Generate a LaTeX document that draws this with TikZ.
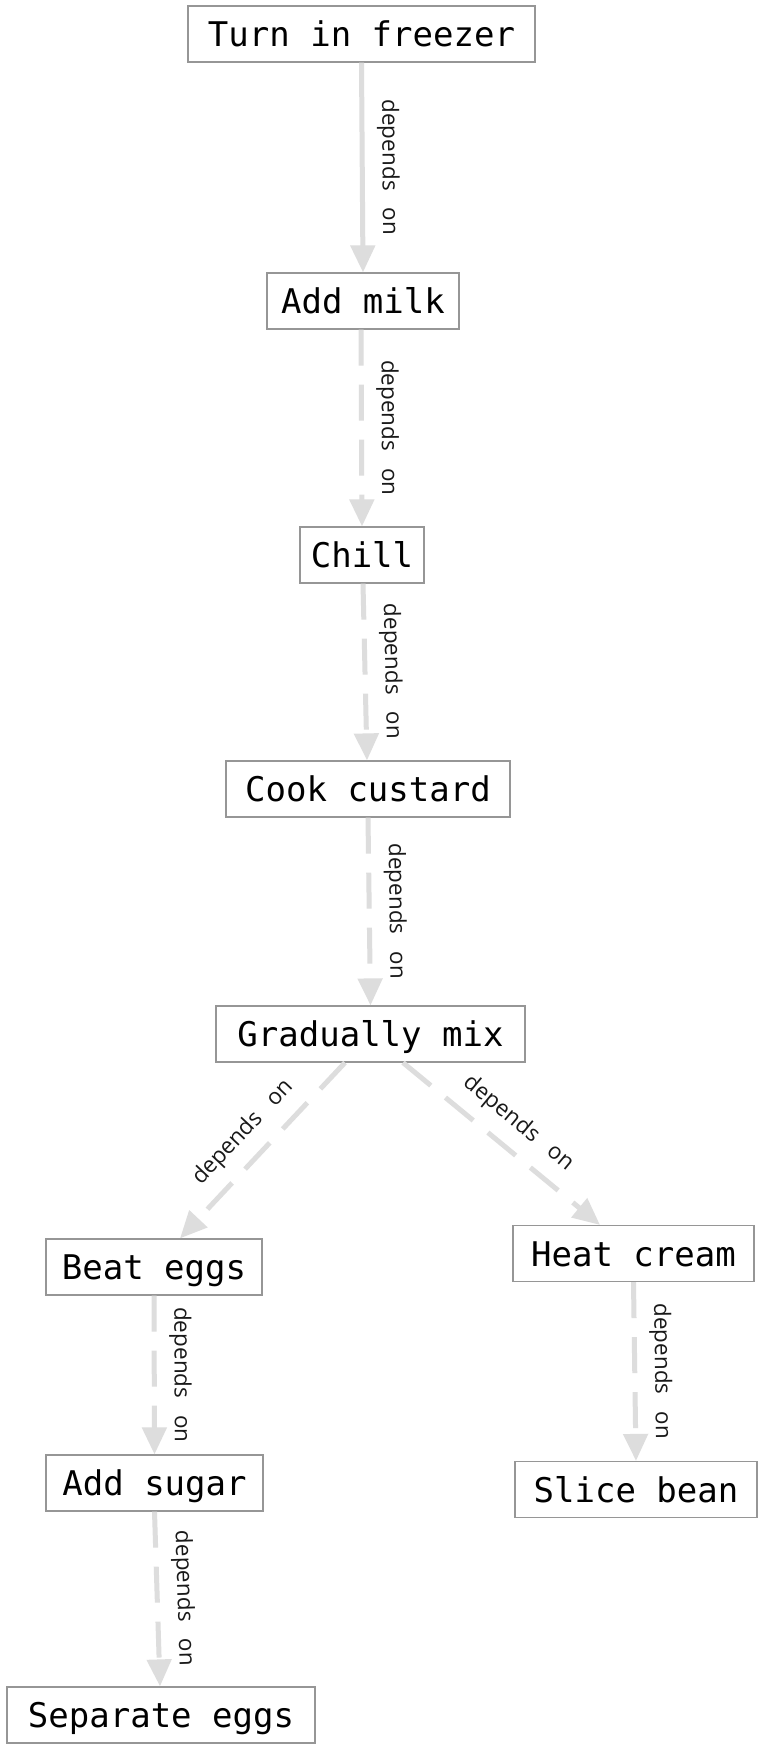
\documentclass[tikz,border=0pt]{standalone}
\usepackage{fontspec}
\newfontfamily\boxfont{DejaVu Sans Mono}
\newfontfamily\lblfont{Open Sans}
\usetikzlibrary{arrows.meta,calc}
\definecolor{edgegray}{RGB}{221,221,221}
\definecolor{boxline}{RGB}{150,150,150}
\newcommand{\deptext}{depends\hspace{17pt}on}
\begin{document}
\begin{tikzpicture}[x=1pt,y=-1pt,
  box/.style={draw=boxline, line width=1.2pt, minimum height=56pt, inner sep=0pt,
    text height=25pt, text depth=0pt, font=\boxfont\fontsize{34}{40}\selectfont},
  dep/.style={draw=edgegray, line width=5pt, -{Triangle[length=27pt,width=24pt]}},
  dsh/.style={dash pattern=on 36pt off 19pt},
  lbl/.style={midway, sloped, above=12.5pt, inner sep=0pt,
    font=\lblfont\fontsize{22.5}{26}\selectfont, text=black!90}
]
\fill[white] (0,0) rectangle (766,1750);
\useasboundingbox (0,0) rectangle (766,1750);

\node[box, minimum width=347pt] (turn)  at (361.5,34)    {Turn in freezer};
\node[box, minimum width=192pt] (milk)  at (363,301)     {Add milk};
\node[box, minimum width=124pt] (chill) at (362,555)     {Chill};
\node[box, minimum width=284pt] (cook)  at (368,789)     {Cook custard};
\node[box, minimum width=309pt] (grad)  at (370.5,1034)  {Gradually mix};
\node[box, minimum width=216pt] (beat)  at (154,1267)    {Beat eggs};
\node[box, minimum width=241pt] (heat)  at (633.5,1253.5){Heat cream};
\node[box, minimum width=217pt] (sugar) at (154.5,1483)  {Add sugar};
\node[box, minimum width=242pt] (slice) at (636,1489.5)  {Slice bean};
\node[box, minimum width=308pt] (sep)   at (161,1715)    {Separate eggs};

\draw[dep] (turn.south) -- (milk.north) node[lbl] {\deptext};
\draw[dep,dsh] ([xshift=-2pt]milk.south) -- (chill.north) node[lbl] {\deptext};
\draw[dep,dsh] ([xshift=1pt]chill.south) -- ([xshift=-1pt]cook.north) node[lbl] {\deptext};
\draw[dep,dsh] (cook.south) -- (grad.north) node[lbl] {\deptext};
\draw[dep,dsh] ([xshift=-25.5pt]grad.south) -- ([xshift=26pt]beat.north) node[lbl] {\deptext};
\draw[dep,dsh] ([xshift=32.5pt]grad.south) -- ([xshift=-33.5pt]heat.north) node[lbl] {\deptext};
\draw[dep,dsh] (beat.south) -- (sugar.north) node[lbl] {\deptext};
\draw[dep,dsh] (sugar.south) -- ([xshift=-1pt]sep.north) node[lbl] {\deptext};
\draw[dep,dsh] (heat.south) -- (slice.north) node[lbl] {\deptext};
\end{tikzpicture}
\end{document}
